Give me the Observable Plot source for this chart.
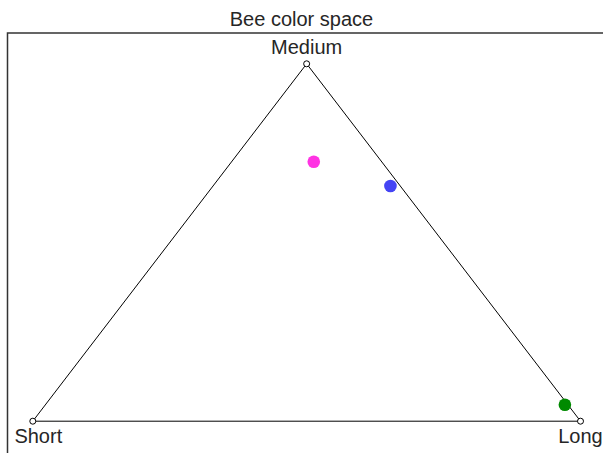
<!DOCTYPE html>
<html>
<head>
<meta charset="utf-8">
<script src="https://cdn.jsdelivr.net/npm/d3@7"></script>
<script src="https://cdn.jsdelivr.net/npm/@observablehq/plot@0.6"></script>
<style>
  html, body { margin: 0; padding: 0; background: #fff; overflow: hidden; width: 603px; height: 453px; }
  #wrap { position: relative; width: 603px; height: 453px; overflow: hidden; background: #fff; }
  #title { position: absolute; left: 0; top: 9px; width: 603px; text-align: center; z-index: 2;
           font-family: "Liberation Sans", Arial, sans-serif; font-size: 20px; line-height: 20px; color: #262626; }
  #chart { position: absolute; left: 0; top: 26px; z-index: 1; }
  #chart svg { max-width: none !important; }
</style>
</head>
<body>
<div id="wrap">
  <div id="title">Bee color space</div>
  <div id="chart"></div>
</div>
<script>
// Receptor vertices
const receptors = ["Short", "Medium", "Long"];
// Relative excitations (S, M, L) of each sample
const sampleNames = ["magenta", "blue", "green"];
const sampleColors = ["#ff33e3", "#4444f4", "#008a00"];
const shortExc  = [0.124, 0.018, 0.0055];
const mediumExc = [0.726, 0.658, 0.046];
const longExc   = [0.150, 0.324, 0.9485];

// ternary -> 2D: x = L - S, y = M
const vertices = receptors.map((name) => {
  const s = name === "Short" ? 1 : 0, m = name === "Medium" ? 1 : 0, l = name === "Long" ? 1 : 0;
  return {name, x: l - s, y: m};
});
const triangle = [...vertices, vertices[0]];
const samples = sampleNames.map((name, i) => ({
  name, color: sampleColors[i],
  x: longExc[i] - shortExc[i],
  y: mediumExc[i]
}));

const font = '"Liberation Sans", Arial, sans-serif';
const chart = Plot.plot({
  width: 640,
  height: 460,
  marginLeft: 7,
  marginTop: 6.5,
  marginRight: 0,
  marginBottom: 0,
  style: {fontFamily: font, fontSize: "20px", color: "#262626", background: "transparent", overflow: "visible", maxWidth: "none"},
  x: {domain: [-1, 1], range: [32.3, 580], axis: null},
  y: {domain: [0, 1], range: [394.7, 37.3], axis: null},
  marks: [
    Plot.frame({stroke: "#333", strokeWidth: 1.5}),
    Plot.line(triangle, {x: "x", y: "y", stroke: "black", strokeWidth: 1}),
    Plot.dot(vertices, {x: "x", y: "y", r: 3, fill: "white", stroke: "black", strokeWidth: 1}),
    Plot.dot(samples, {x: "x", y: "y", r: 6.3, fill: "color", stroke: "none"}),
    Plot.text(vertices.filter(d => d.name === "Medium"), {x: "x", y: "y", text: "name", lineAnchor: "bottom", dy: -10, fontSize: 20, fill: "#262626"}),
    Plot.text(vertices.filter(d => d.name === "Short"), {x: "x", y: "y", text: "name", lineAnchor: "top", dy: 8, dx: 5.5, fontSize: 20, fill: "#262626"}),
    Plot.text(vertices.filter(d => d.name === "Long"), {x: "x", y: "y", text: "name", lineAnchor: "top", dy: 8, fontSize: 20, fill: "#262626"})
  ]
});
document.getElementById("chart").appendChild(chart);
</script>
</body>
</html>
